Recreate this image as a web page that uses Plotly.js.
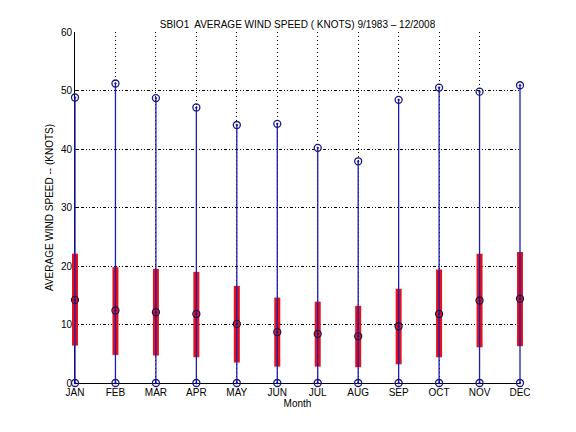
<!DOCTYPE html>
<html>
<head>
<meta charset="utf-8">
<script src="https://cdn.plot.ly/plotly-3.0.1.min.js"></script>
<style>html,body{margin:0;padding:0;background:#fff;}#chart{width:576px;height:432px;}</style>
</head>
<body>
<div id="chart"></div>
<script>
const months = ['JAN','FEB','MAR','APR','MAY','JUN','JUL','AUG','SEP','OCT','NOV','DEC'];
const maxVals = [48.8, 51.2, 48.7, 47.1, 44.1, 44.3, 40.2, 37.9, 48.4, 50.5, 49.8, 50.9];
const upperVals = [22.1, 19.8, 19.5, 19.0, 16.6, 14.6, 13.9, 13.2, 16.1, 19.4, 22.1, 22.4];
const lowerVals = [6.4, 4.8, 4.7, 4.4, 3.5, 2.8, 2.8, 2.7, 3.2, 4.4, 6.1, 6.3];
const medianVals = [14.2, 12.4, 12.1, 11.8, 10.1, 8.7, 8.4, 8.0, 9.7, 11.8, 14.1, 14.4];
const minVals = [0, 0, 0, 0, 0, 0, 0, 0, 0, 0, 0, 0];

const xs = months.map((m, i) => i + 1);
const blueCol = '#1c1cb0';
const fontFam = 'Liberation Sans, Arial, sans-serif';

// geometry (pixels) of the visible axes box and a slightly larger, unclipped data box
const W = 576, H = 432;
const axL = 75, axR = 520, axT = 32, axB = 383;
const mL = 69, mR = 50, mT = 27, mB = 44;
const pw = W - mL - mR, ph = H - mT - mB;
const xMin = 1, xMax = 12, yMin = 0, yMax = 60;
const pxPerX = (axR - axL) / (xMax - xMin);
const pxPerY = (axB - axT) / (yMax - yMin);
const xDom = [(axL - mL) / pw, (axR - mL) / pw];
const yDom = [(H - mB - axB) / ph, (H - mB - axT) / ph];
const x2Range = [xMin - (axL - mL) / pxPerX, xMax + (W - mR - axR) / pxPerX];
const y2Range = [yMin - (H - mB - axB) / pxPerY, yMax + (axT - mT) / pxPerY];

function segs(a, b) {
  const x = [], y = [];
  xs.forEach((xv, i) => { x.push(xv, xv, null); y.push(a[i], b[i], null); });
  return {x, y};
}
const red = segs(lowerVals, upperVals);
const blue = segs(minVals, maxVals);

const traces = [
  // invisible anchor trace so the visible axes subplot is drawn
  {x: xs, y: minVals, xaxis: 'x', yaxis: 'y', mode: 'markers', marker: {size: 1, opacity: 0}, hoverinfo: 'skip'},
  {x: red.x, y: red.y, xaxis: 'x2', yaxis: 'y2', mode: 'lines', line: {color: '#e3121c', width: 6}, hoverinfo: 'skip'},
  {x: blue.x, y: blue.y, xaxis: 'x2', yaxis: 'y2', mode: 'lines', line: {color: blueCol, width: 1.3}, hoverinfo: 'skip'},
  {x: xs, y: maxVals, xaxis: 'x2', yaxis: 'y2', mode: 'markers', marker: {symbol: 'circle-open-dot', size: 7, color: '#16168a', line: {width: 1.3}}, cliponaxis: false},
  {x: xs, y: medianVals, xaxis: 'x2', yaxis: 'y2', mode: 'markers', marker: {symbol: 'circle-open-dot', size: 7, color: '#1a1050', line: {width: 1.3}}, cliponaxis: false},
  {x: xs, y: minVals, xaxis: 'x2', yaxis: 'y2', mode: 'markers', marker: {symbol: 'circle-open-dot', size: 7, color: '#16168a', line: {width: 1.3}}, cliponaxis: false}
];

const layout = {
  width: W, height: H,
  margin: {l: mL, r: mR, t: mT, b: mB},
  paper_bgcolor: '#fff', plot_bgcolor: 'rgba(0,0,0,0)',
  showlegend: false,
  font: {family: fontFam, size: 10, color: '#000'},
  title: {text: 'SBIO1  AVERAGE WIND SPEED ( KNOTS) 9/1983 \u2013 12/2008', x: (axL + axR) / 2 / W, xanchor: 'center', y: 0.944, yanchor: 'middle', font: {family: fontFam, size: 10, color: '#000'}},
  xaxis: {
    domain: xDom, anchor: 'y',
    range: [xMin, xMax], tickvals: xs, ticktext: months,
    showline: true, linecolor: '#000', linewidth: 1, mirror: false,
    ticks: 'inside', ticklen: 4, tickcolor: '#000',
    showgrid: true, gridcolor: '#000', griddash: '1px,3px', gridwidth: 1,
    zeroline: false, fixedrange: true,
    tickfont: {family: fontFam, size: 10, color: '#000'},
    title: {text: 'Month', standoff: 2, font: {family: fontFam, size: 10, color: '#000'}}
  },
  yaxis: {
    domain: yDom, anchor: 'x',
    range: [yMin, yMax], tickvals: [0, 10, 20, 30, 40, 50, 60],
    showline: true, linecolor: '#000', linewidth: 1, mirror: false,
    ticks: 'inside', ticklen: 4, tickcolor: '#000',
    showgrid: true, gridcolor: '#000', griddash: '1px,2px,1px,2px,3px,2px', gridwidth: 1,
    zeroline: false, fixedrange: true,
    tickfont: {family: fontFam, size: 10, color: '#000'},
    title: {text: 'AVERAGE WIND SPEED -- (KNOTS)', standoff: 5, font: {family: fontFam, size: 10, color: '#000'}}
  },
  xaxis2: {domain: [0, 1], anchor: 'y2', range: x2Range, visible: false, fixedrange: true},
  yaxis2: {domain: [0, 1], anchor: 'x2', range: y2Range, visible: false, fixedrange: true}
};

Plotly.newPlot('chart', traces, layout, {displayModeBar: false, staticPlot: true});
</script>
</body>
</html>
